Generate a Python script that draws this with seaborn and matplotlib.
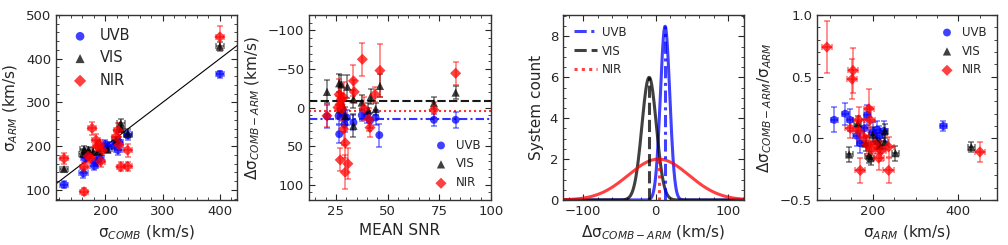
import numpy as np
import pandas as pd
import matplotlib
matplotlib.use('Agg')
import matplotlib.pyplot as plt
import seaborn as sns
from matplotlib.ticker import AutoMinorLocator

# ============================================================================
# DATA
# ============================================================================

arms = ['UVB', 'VIS', 'NIR']
arm_colors = {'UVB': 'blue', 'VIS': 'black', 'NIR': 'red'}
arm_markers = {'UVB': 'o', 'VIS': '^', 'NIR': 'D'}

# panel 1: sigma_COMB vs sigma_ARM
uvb_comb = [128, 162, 165, 181, 183, 190, 204, 216, 222, 224, 239, 400, 170, 200]
uvb_arm = [112, 138, 172, 155, 165, 172, 199, 203, 191, 210, 225, 365, 178, 205]
uvb_err = [8, 10, 10, 10, 10, 10, 10, 10, 10, 10, 10, 8, 10, 10]
vis_comb = [128, 161, 163, 171, 179, 190, 204, 219, 227, 228, 239, 400]
vis_arm = [148, 183, 193, 191, 187, 188, 193, 214, 252, 240, 229, 428]
vis_err = [5, 8, 8, 8, 8, 8, 8, 8, 10, 8, 10, 10]
nir_comb = [128, 163, 163, 170, 175, 177, 184, 186, 190, 192, 195, 219, 222, 224, 227, 239, 239, 400]
nir_arm = [172, 96, 153, 177, 173, 241, 214, 200, 203, 165, 191, 222, 237, 203, 153, 154, 191, 450]
nir_err = [12, 8, 12, 12, 12, 15, 15, 12, 12, 12, 12, 12, 15, 12, 10, 10, 15, 25]

# panel 2: mean SNR vs delta sigma
uvb_snr = [20.7, 26.6, 27.9, 30.3, 29.2, 33.5, 37.5, 39.9, 41.5, 44.2, 46.0, 72.4, 82.9, 26.3]
uvb_dsig = [11.6, 34.5, 6.5, 13, 21.5, 19.4, 10, 10, 17, 13, 35.8, 16, 16, 10.8]
uvb_dsig_err = [15, 12, 10, 10, 10, 10, 8, 10, 10, 10, 15, 8, 10, 10]
vis_snr = [20.7, 26.6, 27.6, 30.6, 33.5, 33.5, 37.5, 41.8, 44.2, 46.3, 29.5, 27.0, 40.7, 72.4, 82.9, 28.4]
vis_dsig = [-20.3, -31.5, -30, -27, -10.8, 23.7, -6.5, -14, 2, -28, 11, 2, 4, -5.6, -19.4, -2]
vis_dsig_err = [15, 12, 12, 15, 12, 15, 10, 10, 8, 15, 12, 10, 10, 8, 8, 10]
nir_snr = [20.7, 26.6, 27.6, 26.0, 27.9, 27.1, 28.7, 29.5, 29.5, 30.8, 33.5, 33.9, 37.8,
           38.6, 41.0, 41.5, 43.9, 46.3, 72.4, 82.9, 27.0, 28.7]
nir_dsig = [10.8, -17, -10.8, 0, 2, 68, 28, 46, 84, 73, -34.5, -20.3, -62.5,
            1.3, 15, 26, -17, -48, 3, -44.4, -4, -13]
nir_dsig_err = [15, 20, 20, 15, 15, 15, 20, 20, 22, 20, 20, 15, 21,
                15, 15, 12, 10, 34, 10, 15, 15, 20]

# mean offsets and gaussian fits (panel 2 & 3)
mean_offset = {'UVB': 15, 'VIS': -8, 'NIR': 4}
fit_center = {'UVB': 13, 'VIS': -9, 'NIR': 4}
fit_sigma = {'UVB': 6.5, 'VIS': 10, 'NIR': 42}
fit_peak = {'UVB': 8.5, 'VIS': 6.0, 'NIR': 2.0}
line_dashes = {'UVB': (4, 1.5, 1, 1.5), 'VIS': (4, 1.6), 'NIR': (1, 1.4)}

# panel 4: sigma_ARM vs fractional delta
uvb_arm4 = [110, 136, 147, 163, 171, 187, 210, 215, 226, 365, 180, 200]
uvb_frac = [0.15, 0.20, 0.15, 0.02, -0.04, 0.19, 0.07, 0.02, 0.06, 0.10, 0.08, 0.05]
uvb_frac_err = [0.10, 0.09, 0.09, 0.08, 0.08, 0.08, 0.07, 0.08, 0.08, 0.04, 0.08, 0.08]
vis_arm4 = [145, 165, 184, 191, 195, 210, 217, 228, 228, 253, 430, 200]
vis_frac = [-0.13, 0.12, -0.04, -0.14, -0.16, -0.02, -0.06, 0.06, -0.03, -0.12, -0.07, 0.03]
vis_frac_err = [0.06, 0.06, 0.06, 0.06, 0.06, 0.06, 0.06, 0.06, 0.06, 0.06, 0.04, 0.06]
nir_arm4 = [93, 148, 152, 154, 167, 171, 179, 187, 191, 194, 197, 206, 214, 220, 237, 237, 450, 167]
nir_frac = [0.74, 0.08, 0.48, 0.55, 0.15, -0.26, 0.01, -0.05, 0.24, 0.15, -0.09, -0.05,
            -0.16, -0.10, -0.07, -0.26, -0.11, 0.06]
nir_frac_err = [0.21, 0.08, 0.16, 0.18, 0.1, 0.1, 0.08, 0.08, 0.16, 0.1, 0.08, 0.08,
                0.1, 0.08, 0.08, 0.1, 0.08, 0.08]

p1 = {'UVB': (uvb_comb, uvb_arm, uvb_err),
      'VIS': (vis_comb, vis_arm, vis_err),
      'NIR': (nir_comb, nir_arm, nir_err)}
p2 = {'UVB': (uvb_snr, uvb_dsig, uvb_dsig_err),
      'VIS': (vis_snr, vis_dsig, vis_dsig_err),
      'NIR': (nir_snr, nir_dsig, nir_dsig_err)}
p4 = {'UVB': (uvb_arm4, uvb_frac, uvb_frac_err),
      'VIS': (vis_arm4, vis_frac, vis_frac_err),
      'NIR': (nir_arm4, nir_frac, nir_frac_err)}

# ============================================================================
# STYLE
# ============================================================================

sns.set_style('ticks')
plt.rcParams['font.family'] = ['DejaVu Sans']
plt.rcParams['axes.linewidth'] = 1.0


def style_axes(ax):
    ax.xaxis.set_minor_locator(AutoMinorLocator())
    ax.yaxis.set_minor_locator(AutoMinorLocator())
    ax.tick_params(which='both', direction='in', top=True, right=True, labelsize=9.5)
    ax.tick_params(which='major', length=4, width=0.8)
    ax.tick_params(which='minor', length=2, width=0.6)
    for s in ax.spines.values():
        s.set_color('#333333')


def draw_points(ax, data, xerr_size=None, msize=32):
    for arm in arms:
        x, y, yerr = data[arm]
        c = arm_colors[arm]
        xerr = None
        if xerr_size is not None:
            xerr = xerr_size[arm]
        ax.errorbar(x, y, yerr=yerr, xerr=xerr, fmt='none', ecolor=c, alpha=0.5,
                    elinewidth=1.2, capsize=2.5, capthick=1.2, zorder=2)
        sns.scatterplot(x=x, y=y, marker=arm_markers[arm], color=c, alpha=0.75,
                        s=msize if arm != 'VIS' else msize * 1.1, edgecolor='none',
                        label=arm, ax=ax, zorder=3)


W, H = 1008, 245
fig = plt.figure(figsize=(W / 100, H / 100), dpi=100)


def add_ax(left, right, top=15, bottom=200):
    return fig.add_axes([left / W, (H - bottom) / H, (right - left) / W, (bottom - top) / H])


ax1 = add_ax(56, 237)
ax2 = add_ax(309, 491)
ax3 = add_ax(563, 744)
ax4 = add_ax(817, 997)

# ---- panel 1 ----
draw_points(ax1, p1, xerr_size={'UVB': 7, 'VIS': 7, 'NIR': 7})
ax1.axline((0, 0), slope=1, color='black', lw=0.8, zorder=1)
ax1.set_xlim(114, 430)
ax1.set_ylim(77, 500)
ax1.set_xticks([200, 300, 400])
ax1.set_yticks([100, 200, 300, 400, 500])
ax1.set_xlabel(r'σ$_{COMB}$ (km/s)', fontsize=11)
ax1.set_ylabel(r'σ$_{ARM}$ (km/s)', fontsize=11)
ax1.legend(loc='upper left', frameon=False, fontsize=10.5, handlelength=1.5,
           handletextpad=0.6, labelspacing=0.5, markerscale=1.1)

# ---- panel 2 ----
draw_points(ax2, p2)
for arm in arms:
    ax2.axhline(mean_offset[arm], color=arm_colors[arm], dashes=line_dashes[arm],
                lw=1.5, alpha=0.9 if arm == 'VIS' else 0.8, zorder=1)
ax2.set_xlim(12, 100)
ax2.set_ylim(120, -120)
ax2.set_xticks([25, 50, 75, 100])
ax2.set_yticks([-100, -50, 0, 50, 100])
ax2.set_xlabel('MEAN SNR', fontsize=11)
ax2.set_ylabel(r'Δσ$_{COMB-ARM}$ (km/s)', fontsize=11)
ax2.legend(loc='lower right', frameon=False, fontsize=8.5, handlelength=1.5,
           handletextpad=0.5, labelspacing=0.5)

# ---- panel 3 ----
xgrid = np.linspace(-135, 130, 600)
for arm in arms:
    curve = fit_peak[arm] * np.exp(-0.5 * ((xgrid - fit_center[arm]) / fit_sigma[arm]) ** 2)
    sns.lineplot(x=xgrid, y=curve, color=arm_colors[arm], lw=2.2, alpha=0.75, ax=ax3)
for arm in arms:
    ax3.plot([fit_center[arm], fit_center[arm]], [0, fit_peak[arm]],
             color=arm_colors[arm], dashes=line_dashes[arm], lw=2.2, alpha=0.75, label=arm)
ax3.set_xlim(-128, 122)
ax3.set_ylim(0, 9.05)
ax3.set_xticks([-100, 0, 100])
ax3.set_yticks([0, 2, 4, 6, 8])
ax3.set_xlabel(r'Δσ$_{COMB-ARM}$ (km/s)', fontsize=11)
ax3.set_ylabel('System count', fontsize=11)
ax3.legend(loc='upper left', frameon=False, fontsize=8.5, handlelength=2.0,
           handletextpad=0.4, labelspacing=0.5)

# ---- panel 4 ----
draw_points(ax4, p4, xerr_size={'UVB': 8, 'VIS': 8, 'NIR': 12})
ax4.set_xlim(70, 490)
ax4.set_ylim(-0.5, 1.0)
ax4.set_xticks([200, 400])
ax4.set_yticks([-0.5, 0.0, 0.5, 1.0])
ax4.set_xlabel(r'σ$_{ARM}$ (km/s)', fontsize=11)
ax4.set_ylabel(r'Δσ$_{COMB-ARM}$/σ$_{ARM}$', fontsize=11)
ax4.legend(loc='upper right', frameon=False, fontsize=8.5, handlelength=1.5,
           handletextpad=0.5, labelspacing=0.5)

for ax in (ax1, ax2, ax3, ax4):
    style_axes(ax)

fig.savefig('out.png', dpi=100)
print("saved out.png")
